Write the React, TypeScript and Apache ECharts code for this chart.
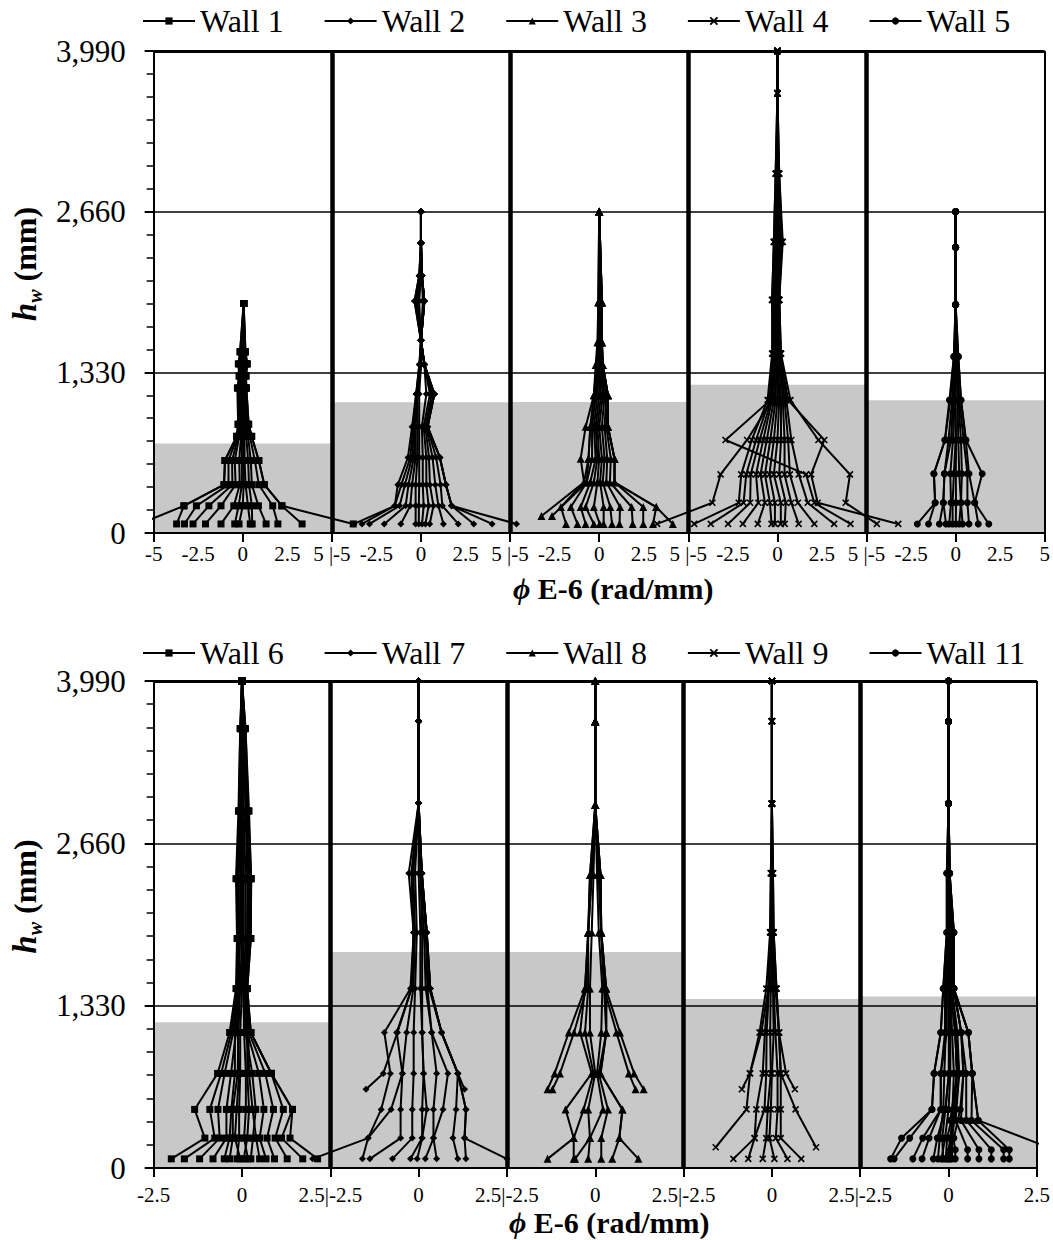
import React, { useEffect, useRef } from "react";
import * as echarts from "echarts";

// ---------- DATA ----------
const topWalls = ["Wall 1", "Wall 2", "Wall 3", "Wall 4", "Wall 5"];
const bottomWalls = ["Wall 6", "Wall 7", "Wall 8", "Wall 9", "Wall 11"];
const yTicks = [0, 1330, 2660, 3990];

// plastic-hinge (shaded) heights, mm
const topGray = [740, 1082, 1084, 1228, 1098];
const bottomGray = [1195, 1770, 1770, 1385, 1405];

// Wall 1
const w1Heights = [75, 225, 400, 600, 800, 900, 1200, 1300, 1400, 1500, 1900];
const w1Curves = [
  [-5.8, -3.3, -1.05, -1.0, -0.34, -0.26, -0.3, -0.2, -0.25, -0.15, 0.05],
  [-3.71, -3.3, -1.05, -1.0, -0.34, -0.26, -0.28, -0.2, -0.2, -0.15, 0.05],
  [-3.27, -2.6, -0.8, -0.8, -0.3, -0.2, -0.22, -0.15, -0.15, -0.1, 0.05],
  [-2.79, -1.9, -0.58, -0.6, -0.25, -0.15, -0.15, -0.1, -0.1, -0.05, 0.05],
  [-2.09, -1.22, -0.4, -0.45, -0.2, -0.1, -0.1, -0.05, -0.05, 0, 0.05],
  [-1.22, -0.5, -0.17, -0.2, -0.1, -0.05, -0.05, 0, 0, 0, 0.05],
  [-0.45, -0.23, -0.05, -0.05, -0.05, 0, 0, 0, 0, 0.05, 0.05],
  [-0.21, 0.0, 0.05, 0.05, 0, 0.05, 0.05, 0.05, 0.05, 0.05, 0.05],
  [0.42, 0.29, 0.16, 0.1, 0.1, 0.1, 0.1, 0.08, 0.1, 0.08, 0.05],
  [0.53, 0.51, 0.35, 0.3, 0.2, 0.15, 0.12, 0.1, 0.12, 0.1, 0.05],
  [1.31, 0.88, 0.51, 0.45, 0.3, 0.2, 0.15, 0.12, 0.15, 0.1, 0.05],
  [1.97, 1.68, 0.9, 0.68, 0.4, 0.28, 0.18, 0.15, 0.2, 0.12, 0.05],
  [3.33, 2.19, 1.21, 0.9, 0.5, 0.33, 0.2, 0.18, 0.25, 0.15, 0.05],
  [6.2, 2.2, 1.21, 0.9, 0.5, 0.33, 0.2, 0.18, 0.25, 0.15, 0.05],
];

// Wall 2
const w2Heights = [75, 225, 400, 625, 880, 1150, 1395, 1595, 1920, 2130, 2400, 2660];
const w2Curves = [
  [-3.76, -1.47, -1.3, -0.73, -0.5, -0.27, -0.09, 0, -0.36, -0.1, 0, 0],
  [-3.31, -1.47, -1.1, -0.6, -0.45, -0.27, -0.09, 0, -0.36, -0.1, 0, 0],
  [-2.89, -1.2, -0.9, -0.5, -0.4, -0.25, -0.05, 0, -0.3, -0.08, 0, 0],
  [-2.06, -0.86, -0.7, -0.4, -0.35, -0.25, -0.05, 0, -0.3, -0.05, 0, 0],
  [-1.13, -0.6, -0.5, -0.3, -0.3, -0.2, 0, 0, -0.25, -0.05, 0, 0],
  [-0.3, -0.3, -0.3, -0.2, -0.2, -0.2, 0, 0, -0.2, 0, 0, 0],
  [-0.12, -0.12, -0.1, -0.1, -0.1, -0.1, 0, 0, -0.1, 0, 0, 0],
  [0.06, 0.15, 0.1, 0.1, 0.05, 0.3, 0.19, 0, 0.1, 0.05, 0, 0],
  [0.25, 0.43, 0.3, 0.3, 0.15, 0.5, 0.19, 0, 0.15, 0.05, 0, 0],
  [0.49, 0.7, 0.5, 0.45, 0.25, 0.6, 0.19, 0, 0.19, 0.05, 0, 0],
  [1.26, 0.98, 0.8, 0.65, 0.3, 0.7, 0.19, 0, 0.19, 0.05, 0, 0],
  [2.09, 1.2, 1.1, 0.85, 0.35, 0.75, 0.19, 0, 0.19, 0.05, 0, 0],
  [2.96, 1.72, 1.4, 1.06, 0.37, 0.75, 0.19, 0, 0.19, 0.05, 0, 0],
  [3.99, 1.72, 1.4, 1.06, 0.37, 0.75, 0.19, 0, 0.19, 0.05, 0, 0],
  [5.36, 1.72, 1.4, 1.06, 0.37, 0.75, 0.19, 0, 0.19, 0.05, 0, 0],
];

// Wall 3
const w3Heights = [75, 140, 215, 420, 615, 880, 1140, 1390, 1580, 1910, 2660];
const w3Curves = [
  [null, -3.24, null, -0.85, -1.04, -0.76, -0.3, -0.2, -0.1, -0.05, 0],
  [null, -2.65, null, -0.7, -0.6, -0.5, -0.3, -0.15, -0.05, -0.05, 0],
  [-1.86, null, -2.15, -0.85, -0.6, -0.5, -0.2, -0.1, 0, 0, 0],
  [-1.22, null, -1.59, -0.7, -0.4, -0.4, -0.2, -0.1, 0, 0, 0],
  [-0.76, null, -1.04, -0.5, -0.2, -0.3, -0.1, -0.05, 0, 0, 0],
  [-0.3, null, -0.76, -0.3, -0.1, -0.2, 0, 0, 0, 0.05, 0],
  [0.03, null, -0.3, -0.1, 0, -0.1, 0.1, 0, 0.05, 0.05, 0],
  [0.25, null, 0.25, 0.05, 0.15, 0, 0.2, 0.05, 0.05, 0.1, 0],
  [0.72, null, 0.62, 0.2, 0.3, 0.15, 0.3, 0.1, 0.1, 0.1, 0],
  [1.14, null, 1.17, 0.4, 0.45, 0.3, 0.4, 0.15, 0.1, 0.15, 0],
  [1.88, null, 1.82, 0.6, 0.65, 0.4, 0.49, 0.2, 0.15, 0.15, 0],
  [2.47, null, 2.47, 0.86, 0.86, 0.49, 0.49, 0.2, 0.15, 0.15, 0],
  [3.02, null, 3.2, 0.86, 0.86, 0.49, 0.49, 0.2, 0.15, 0.15, 0],
  [4.13, null, 3.2, 0.86, 0.86, 0.49, 0.49, 0.2, 0.15, 0.15, 0],
];

// Wall 4
const w4Heights = [75, 250, 485, 770, 1100, 1485, 1930, 2410, 2975, 3640, 3990];
const w4Curves = [
  [-6.75, -3.65, -3.19, -1.7, -0.3, -0.2, -0.3, -0.2, -0.1, 0, 0],
  [-4.67, -2.17, -2.03, -1.44, -0.55, -0.3, -0.3, -0.2, -0.1, 0, 0],
  [-3.74, -1.9, -1.75, -1.2, -0.45, -0.25, -0.25, -0.15, -0.05, 0, 0],
  [-2.77, -1.53, -1.5, -1.0, -0.35, -0.2, -0.2, -0.1, -0.05, 0, 0],
  [-1.94, -1.07, -1.2, -0.8, -0.3, -0.15, -0.15, -0.05, 0, 0, 0],
  [-1.1, -0.7, -0.95, -0.6, -0.2, -0.1, -0.1, 0, 0, 0, 0],
  [-0.33, -0.42, -0.7, -0.4, -0.1, -0.05, -0.05, 0, 0, 0, 0],
  [-0.14, -0.14, -0.45, -0.2, 0, 0, 0, 0.05, 0, 0, 0],
  [0.19, 0.19, -0.2, 0, 0.1, 0.05, 0, 0.1, 0.05, 0, 0],
  [0.41, 0.47, 0.1, 0.2, 0.2, 0.1, 0.05, 0.15, 0.05, 0, 0],
  [1.19, 0.78, 0.4, 0.4, 0.3, 0.15, 0.05, 0.2, 0.05, 0, 0],
  [2.07, 1.15, 0.7, 0.6, 0.4, 0.15, 0.1, 0.25, 0.1, 0, 0],
  [3.18, 1.7, 1.2, 0.78, 0.5, 0.2, 0.1, 0.3, 0.1, 0, 0],
  [4.1, 2.07, 1.61, -2.91, -0.4, -0.2, 0, 0.1, 0, 0, 0],
  [5.58, 3.83, 4.07, 2.3, 0.73, 0.2, 0.1, 0.2, 0.05, 0, 0],
  [6.78, 2.26, 1.89, 2.63, 0.6, 0.15, 0.1, 0.2, 0.05, 0, 0],
];

// Wall 5
const w5Heights = [75, 250, 490, 770, 1100, 1460, 1890, 2365, 2660];
const w5Curves = [
  [-2.15, -1.15, -1.22, -0.6, -0.35, -0.1, 0, 0, 0],
  [-1.52, -1.15, -1.22, -0.6, -0.3, -0.1, 0, 0, 0],
  [-0.91, -0.69, -0.63, -0.4, -0.2, -0.05, 0, 0, 0],
  [-0.54, -0.69, -0.63, -0.26, -0.15, -0.05, 0, 0, 0],
  [-0.36, -0.26, -0.3, -0.15, -0.1, 0, 0, 0, 0],
  [-0.17, -0.17, -0.1, 0, -0.05, 0, 0, 0, 0],
  [0.01, 0.02, 0.01, 0.02, 0, 0, 0, 0, 0],
  [0.2, 0.3, 0.2, 0.15, 0.1, 0.05, 0, 0, 0],
  [0.39, 0.3, 0.35, 0.3, 0.15, 0.05, 0, 0, 0],
  [0.75, 0.66, 0.66, 0.45, 0.2, 0.1, 0, 0, 0],
  [1.27, 1.07, 0.75, 0.57, 0.3, 0.15, 0, 0, 0],
  [1.86, 1.07, 1.49, 0.58, 0.3, 0.15, 0, 0, 0],
];

// Wall 6
const w6Heights = [75, 245, 480, 775, 1110, 1470, 1880, 2370, 2925, 3600, 3990];
const w6Curves = [
  [-2.0, -1.05, -1.34, -0.69, -0.35, -0.17, -0.14, -0.17, -0.1, -0.05, 0],
  [-1.63, -0.77, -0.91, -0.59, -0.3, -0.15, -0.1, -0.12, -0.08, -0.05, 0],
  [-1.2, -0.63, -0.68, -0.49, -0.25, -0.12, -0.08, -0.1, -0.05, -0.03, 0],
  [-0.82, -0.44, -0.44, -0.31, -0.17, -0.1, -0.05, -0.05, -0.03, 0, 0],
  [-0.5, -0.35, -0.3, -0.2, -0.2, -0.12, -0.12, -0.12, -0.08, -0.04, 0],
  [-0.35, -0.26, -0.26, -0.12, -0.1, -0.05, 0, 0, 0, 0, 0],
  [-0.14, -0.08, -0.08, -0.05, -0.05, 0, 0, 0, 0, 0, 0],
  [-0.05, -0.2, -0.15, -0.08, -0.12, -0.08, -0.1, -0.1, -0.06, -0.03, 0],
  [0.05, 0.15, 0.2, 0.15, 0.15, 0.1, 0.15, 0.18, 0.12, 0.06, 0],
  [0.17, 0.06, 0.11, 0.11, 0.06, 0.03, 0.05, 0.05, 0.03, 0.02, 0],
  [0.25, 0.31, 0.39, 0.29, 0.1, 0.05, 0.1, 0.1, 0.05, 0.03, 0],
  [0.5, 0.4, 0.3, 0.2, 0.18, 0.12, 0.2, 0.2, 0.15, 0.08, 0],
  [0.68, 0.5, 0.62, 0.48, 0.15, 0.08, 0.15, 0.15, 0.1, 0.05, 0],
  [0.92, 0.71, 0.89, 0.66, 0.2, 0.1, 0.2, 0.2, 0.12, 0.07, 0],
  [1.28, 0.94, 1.17, 0.83, 0.25, 0.12, 0.22, 0.22, 0.15, 0.08, 0],
  [1.72, 1.12, 1.43, 0.83, 0.25, 0.15, 0.25, 0.26, 0.18, 0.1, 0],
  [2.14, 1.36, 1.43, 0.83, 0.25, 0.15, 0.25, 0.26, 0.2, 0.1, 0],
];

// Wall 7
const w7Heights = [75, 245, 480, 645, 775, 1110, 1470, 1930, 2415, 2990, 3660, 3990];
const w7Curves = [
  [-3.0, -1.43, -1.06, null, -0.8, -0.97, -0.23, -0.14, -0.28, 0, 0, 0],
  [-1.59, -1.43, -0.78, null, -0.46, -0.62, -0.2, -0.14, -0.2, 0, 0, 0],
  [-1.38, -0.51, -0.51, null, -0.46, -0.34, -0.15, -0.1, -0.15, 0, 0, 0],
  [-0.74, -0.18, -0.18, null, -0.14, -0.14, -0.1, -0.05, -0.1, 0, 0, 0],
  [-0.23, 0.1, 0.1, null, 0.14, 0.1, 0.05, 0.05, 0, 0, 0, 0],
  [-0.04, 0.1, 0.23, null, 0.14, 0.1, 0.1, 0.1, 0.05, 0, 0, 0],
  [0.19, 0.42, 0.42, null, 0.51, 0.37, 0.2, 0.15, 0.05, 0, 0, 0],
  [0.51, 0.42, 0.69, null, 0.83, 0.37, 0.25, 0.2, 0.09, 0, 0, 0],
  [1.11, 0.97, 1.06, null, 1.11, 0.65, 0.33, 0.23, 0.09, 0, 0, 0],
  [1.34, 1.3, 1.34, null, 1.11, 0.65, 0.33, 0.23, 0.09, 0, 0, 0],
  [2.5, 1.3, 1.34, null, 1.11, 0.65, 0.33, 0.23, 0.09, 0, 0, 0],
  [null, null, null, -1.49, -1.0, -0.6, -0.2, -0.14, -0.2, 0, 0, 0],
  [null, null, null, 1.3, 1.11, 0.65, 0.3, 0.23, 0.09, 0, 0, 0],
];

// Wall 8
const w8Heights = [75, 245, 480, 645, 775, 1110, 1470, 1930, 2400, 2975, 3660, 3990];
const w8Curves = [
  [-1.35, -0.61, -0.84, null, -0.1, -0.43, -0.29, -0.2, -0.15, 0, 0, 0],
  [-0.61, -0.61, -0.33, null, -0.05, -0.29, -0.2, -0.2, -0.1, 0, 0, 0],
  [-0.57, -0.15, -0.2, null, 0, -0.15, -0.15, -0.1, -0.05, 0, 0, 0],
  [-0.2, -0.15, 0.22, null, 0.05, 0.17, 0.2, 0.1, 0.05, 0, 0, 0],
  [0.17, 0.17, 0.36, null, 0.1, 0.31, 0.25, 0.17, 0.1, 0, 0, 0],
  [0.48, 0.68, 0.77, null, 0.15, 0.31, 0.31, 0.17, 0.15, 0, 0, 0],
  [1.22, 0.68, 0.77, null, 0.15, 0.31, 0.31, 0.17, 0.15, 0, 0, 0],
  [null, null, null, -1.35, -1.15, -0.75, -0.29, -0.2, -0.15, 0, 0, 0],
  [null, null, null, -1.21, -1.0, -0.6, -0.25, -0.2, -0.1, 0, 0, 0],
  [null, null, null, 1.14, 0.95, 0.6, 0.25, 0.17, 0.1, 0, 0, 0],
  [null, null, null, 1.37, 1.1, 0.7, 0.3, 0.17, 0.15, 0, 0, 0],
];

// Wall 9
const w9Heights = [75, 170, 245, 480, 645, 775, 1110, 1470, 1930, 2415, 2985, 3660, 3990];
const w9Curves = [
  [-1.09, null, -0.49, -0.44, null, -0.26, -0.2, -0.1, -0.05, -0.03, 0, 0, 0],
  [-0.67, null, -0.49, -0.21, null, -0.16, -0.15, -0.08, -0.03, 0, 0, 0, 0],
  [-0.26, null, -0.16, -0.12, null, -0.03, -0.05, -0.03, 0, 0, 0, 0, 0],
  [0.07, null, -0.07, -0.03, null, 0.0, 0.05, 0.03, 0, 0, 0, 0, 0],
  [0.44, null, 0.11, 0.16, null, 0.16, 0.1, 0.05, 0.03, 0.03, 0, 0, 0],
  [0.83, null, 0.25, 0.25, null, 0.25, 0.2, 0.13, 0.05, 0.03, 0, 0, 0],
  [null, -1.59, null, -0.72, null, -0.62, -0.35, -0.16, -0.05, -0.03, 0, 0, 0],
  [null, 1.25, null, 0.67, null, 0.25, 0.2, 0.13, 0.05, 0.03, 0, 0, 0],
  [null, null, null, null, -0.85, -0.62, -0.3, -0.1, -0.03, 0, 0, 0, 0],
  [null, null, null, null, 0.65, 0.4, 0.2, 0.1, 0.03, 0, 0, 0, 0],
];

// Wall 11
const w11Heights = [75, 150, 245, 390, 480, 775, 1110, 1470, 1930, 2415, 2985, 3660, 3990];
const w11Curves = [
  [-1.64, null, -1.33, null, -0.47, -0.41, -0.22, -0.15, -0.05, -0.05, 0, 0, 0],
  [-1.54, null, -1.1, null, -0.47, -0.41, -0.22, -0.15, -0.05, -0.05, 0, 0, 0],
  [-1.01, null, -0.73, null, -0.22, -0.22, -0.1, -0.1, -0.03, 0, 0, 0, 0],
  [-0.75, null, -0.55, null, -0.22, -0.22, -0.05, -0.05, 0, 0, 0, 0, 0],
  [-0.43, null, -0.32, null, -0.09, 0.01, 0.01, 0, 0, 0, 0, 0, 0],
  [-0.3, null, -0.25, null, -0.15, -0.12, -0.08, -0.05, 0, 0, 0, 0, 0],
  [-0.2, null, -0.1, null, 0.0, 0.05, 0.05, 0.03, 0, 0, 0, 0, 0],
  [-0.15, null, -0.18, null, -0.09, 0.01, 0.01, 0.01, 0, 0, 0, 0, 0],
  [-0.08, null, -0.04, null, 0.15, 0.24, 0.19, 0.05, 0.05, 0, 0, 0, 0],
  [-0.04, null, 0.05, null, 0.15, 0.24, 0.19, 0.1, 0.05, 0.03, 0, 0, 0],
  [0.01, null, 0.15, null, 0.33, 0.42, 0.36, 0.15, 0.1, 0.03, 0, 0, 0],
  [0.1, null, 0.1, null, 0.2, 0.3, 0.25, 0.1, 0.05, 0, 0, 0, 0],
  [0.05, 0.05, null, 0.1, null, 0.15, 0.1, 0.05, 0.02, 0, 0, 0, 0],
  [0.19, 0.19, null, 0.05, null, 0.24, 0.19, 0.05, 0.05, 0, 0, 0, 0],
  [0.54, 0.54, null, 0.2, null, 0.3, 0.2, 0.1, 0.05, 0, 0, 0, 0],
  [0.86, 0.86, null, 0.35, null, 0.42, 0.36, 0.15, 0.1, 0, 0, 0, 0],
  [1.21, 1.21, null, 0.5, null, 0.5, 0.36, 0.15, 0.1, 0.03, 0, 0, 0],
  [1.56, 1.56, null, 0.65, null, 0.67, 0.56, 0.15, 0.15, 0.03, 0, 0, 0],
  [1.72, 1.72, null, 0.84, null, 0.67, 0.56, 0.15, 0.15, 0.03, 0, 0, 0],
  [null, 3.0, null, 0.84, null, 0.67, 0.56, 0.15, 0.15, 0.03, 0, 0, 0],
];

// ---------- STYLE ----------
const FONT = "Liberation Serif";
const XMARK = "path://M0,0L10,10M10,0L0,10";

type WallDef = {
  name: string;
  heights: number[];
  curves: (number | null)[][];
  symbol: string;
  size: number;
};

const topDefs: WallDef[] = [
  { name: topWalls[0], heights: w1Heights, curves: w1Curves, symbol: "rect", size: 7 },
  { name: topWalls[1], heights: w2Heights, curves: w2Curves, symbol: "diamond", size: 7 },
  { name: topWalls[2], heights: w3Heights, curves: w3Curves, symbol: "triangle", size: 8 },
  { name: topWalls[3], heights: w4Heights, curves: w4Curves, symbol: XMARK, size: 6 },
  { name: topWalls[4], heights: w5Heights, curves: w5Curves, symbol: "circle", size: 7 },
];
const bottomDefs: WallDef[] = [
  { name: bottomWalls[0], heights: w6Heights, curves: w6Curves, symbol: "rect", size: 7 },
  { name: bottomWalls[1], heights: w7Heights, curves: w7Curves, symbol: "diamond", size: 7 },
  { name: bottomWalls[2], heights: w8Heights, curves: w8Curves, symbol: "triangle", size: 8 },
  { name: bottomWalls[3], heights: w9Heights, curves: w9Curves, symbol: XMARK, size: 6 },
  { name: bottomWalls[4], heights: w11Heights, curves: w11Curves, symbol: "circle", size: 7 },
];

function fmtNum(v: number) {
  const r = Math.round(v * 100) / 100;
  return String(r === 0 ? 0 : r);
}

function buildPanel(defs: WallDef[], gray: number[], idx: number, half: number) {
  const width = half * 2;
  const min = -half;
  const max = min + width * defs.length;
  const xMain = idx * 3;
  const series: any[] = [];
  defs.forEach((d, w) => {
    const off = w * width;
    d.curves.forEach((c) => {
      const data: number[][] = [];
      d.heights.forEach((h, i) => {
        const v = c[i];
        if (v !== null && v !== undefined) data.push([off + v, h]);
      });
      const isX = d.symbol === XMARK;
      series.push({
        type: "line",
        name: d.name,
        xAxisIndex: xMain,
        yAxisIndex: idx,
        data,
        symbol: d.symbol,
        symbolSize: d.size,
        showSymbol: true,
        clip: true,
        z: 3,
        lineStyle: { color: "#000", width: 2 },
        itemStyle: isX
          ? { color: "#000", borderColor: "#000", borderWidth: 1.6 }
          : { color: "#000", borderWidth: 0 },
        emphasis: { disabled: true },
      });
    });
  });
  series.push({
    type: "line",
    name: "shade" + idx,
    xAxisIndex: xMain,
    yAxisIndex: idx,
    data: [],
    z: 1,
    silent: true,
    markArea: {
      silent: true,
      itemStyle: { color: "#c8c8c8", borderWidth: 0 },
      data: gray.map((g, i) => [
        { xAxis: min + i * width, yAxis: 0 },
        { xAxis: min + (i + 1) * width, yAxis: g },
      ]),
    },
  });
  const lineItem = (o: any, w: number) => ({ ...o, lineStyle: { color: "#000", width: w, type: "solid" } });
  const frame: any[] = [];
  for (let i = 1; i < defs.length; i++) frame.push(lineItem({ xAxis: min + i * width }, 4.5));
  frame.push(lineItem({ yAxis: yTicks[1] }, 1.5));
  frame.push(lineItem({ yAxis: yTicks[2] }, 1.5));
  frame.push(lineItem({ yAxis: yTicks[3] }, 3));
  frame.push(lineItem({ xAxis: max }, 2));
  series.push({
    type: "line",
    name: "frame" + idx,
    xAxisIndex: xMain,
    yAxisIndex: idx,
    data: [],
    z: 4,
    silent: true,
    markLine: {
      silent: true,
      symbol: ["none", "none"],
      label: { show: false },
      animation: false,
      data: frame,
    },
  });

  // tick values, split into groups whose labels lie far apart
  const steps = Math.round((max - min) / half);
  const all: number[] = [];
  for (let i = 0; i <= steps; i++) all.push(min + i * half);
  const mainValues = all.filter((_, i) => i === 0 || i === steps || i % 2 === 1); // ends + wall centres
  const boundaries = all.filter((_, i) => i % 2 === 0 && i !== 0 && i !== steps);
  const quarters: number[] = [];
  if (half === 5) defs.forEach((_, w) => quarters.push(w * width - 2.5, w * width + 2.5));

  const relLabel = (v: number) => {
    const r = Math.round(v * 1000) / 1000;
    if (Math.abs(r - min) < 1e-6) return fmtNum(-half);
    if (Math.abs(r - max) < 1e-6) return fmtNum(half);
    const rel = (((r + half) % width) + width) % width - half;
    if (Math.abs(rel + half) < 1e-6)
      return idx === 0 ? `${fmtNum(half)} |${fmtNum(-half)}` : `${fmtNum(half)}|${fmtNum(-half)}`;
    return fmtNum(rel);
  };
  const labelFor = (values: number[]) => ({
    color: "#000",
    fontFamily: FONT,
    fontSize: 21,
    margin: idx === 0 ? 10 : 16,
    hideOverlap: false,
    showMinLabel: true,
    showMaxLabel: true,
    customValues: values,
    formatter: (v: number) => {
      const r = Math.round(v * 1000) / 1000;
      return values.some((x) => Math.abs(x - r) < 1e-6) ? relLabel(r) : "";
    },
  });
  const overlayAxis = (values: number[]) => ({
    type: "value",
    gridIndex: idx,
    position: "bottom",
    offset: 0,
    min,
    max,
    interval: half,
    z: 10,
    axisLine: { show: false },
    axisTick: { show: false },
    splitLine: { show: false },
    axisLabel: { ...labelFor(values), show: values.length > 0 },
  });
  const xAxisMain = {
    type: "value",
    gridIndex: idx,
    position: "bottom",
    min,
    max,
    interval: half,
    z: 10,
    axisLine: { show: true, onZero: false, lineStyle: { color: "#000", width: 2 } },
    axisTick: { show: true, length: 9, customValues: all, lineStyle: { color: "#000", width: 2 } },
    splitLine: { show: false },
    axisLabel: labelFor(mainValues),
    name: "{phi|ϕ}{t| E-6 (rad/mm)}",
    nameLocation: "middle",
    nameGap: idx === 0 ? 40 : 39,
    nameTextStyle: {
      color: "#000",
      fontFamily: FONT,
      fontSize: 30,
      fontWeight: "bold",
      padding: [0, 0, 0, 28],
      rich: {
        phi: { fontFamily: FONT, fontSize: 30, fontWeight: "bold", fontStyle: "italic", color: "#000" },
        t: { fontFamily: FONT, fontSize: 30, fontWeight: "bold", color: "#000" },
      },
    },
  };
  const yAxis = {
    type: "value",
    gridIndex: idx,
    min: 0,
    max: 3990,
    interval: 1330,
    z: 10,
    axisLine: { show: true, onZero: false, lineStyle: { color: "#000", width: 2 } },
    axisTick: { show: true, length: 9, lineStyle: { color: "#000", width: 2 } },
    minorTick: { show: true, splitNumber: 7, length: 7, lineStyle: { color: "#000", width: 1.5 } },
    splitLine: { show: false },
    minorSplitLine: { show: false },
    axisLabel: {
      color: "#000",
      fontFamily: FONT,
      fontSize: 31,
      margin: 28,
      formatter: (v: number) => v.toLocaleString("en-US"),
    },
    name: "{h|h}{w|w}{t| (mm)}",
    nameLocation: "middle",
    nameRotate: 90,
    nameGap: 102,
    nameTextStyle: {
      color: "#000",
      fontFamily: FONT,
      fontSize: 32,
      fontWeight: "bold",
      padding: [0, 0, 0, 56],
      rich: {
        h: { fontFamily: FONT, fontSize: 33, fontWeight: "bold", fontStyle: "italic", color: "#000", lineHeight: 38, verticalAlign: "bottom" },
        w: { fontFamily: FONT, fontSize: 20, fontWeight: "bold", fontStyle: "italic", color: "#000", lineHeight: 38, verticalAlign: "bottom", padding: [0, 0, -4, 0] },
        t: { fontFamily: FONT, fontSize: 32, fontWeight: "bold", color: "#000", lineHeight: 38, verticalAlign: "bottom" },
      },
    },
  };
  return {
    series,
    xAxes: [xAxisMain, overlayAxis(boundaries), overlayAxis(quarters)],
    yAxis,
  };
}

export default function App() {
  const ref = useRef<HTMLDivElement>(null);
  useEffect(() => {
    if (!ref.current) return;
    const chart = echarts.init(ref.current, undefined, { renderer: "svg" });
    const top = buildPanel(topDefs, topGray, 0, 5);
    const bot = buildPanel(bottomDefs, bottomGray, 1, 2.5);
    const legendBase = {
      orient: "horizontal",
      left: 137,
      itemWidth: 52,
      itemHeight: 9,
      itemGap: 40,
      selectedMode: false,
      textStyle: { color: "#000", fontFamily: FONT, fontSize: 32 },
    };
    chart.setOption({
      animation: false,
      backgroundColor: "#fff",
      textStyle: { fontFamily: FONT },
      legend: [
        { ...legendBase, top: 0, data: topWalls },
        { ...legendBase, top: 632, data: bottomWalls },
      ],
      grid: [
        { left: 147.5, right: 3, top: 51, height: 482, containLabel: false },
        { left: 147.5, right: 3, top: 681, height: 487, containLabel: false },
      ],
      xAxis: [...top.xAxes, ...bot.xAxes],
      yAxis: [top.yAxis, bot.yAxis],
      series: [...top.series, ...bot.series],
    });
    return () => chart.dispose();
  }, []);
  return (
    <div
      ref={ref}
      style={{ position: "absolute", left: 0, top: 0, width: 1053, height: 1240, background: "#fff" }}
    />
  );
}
